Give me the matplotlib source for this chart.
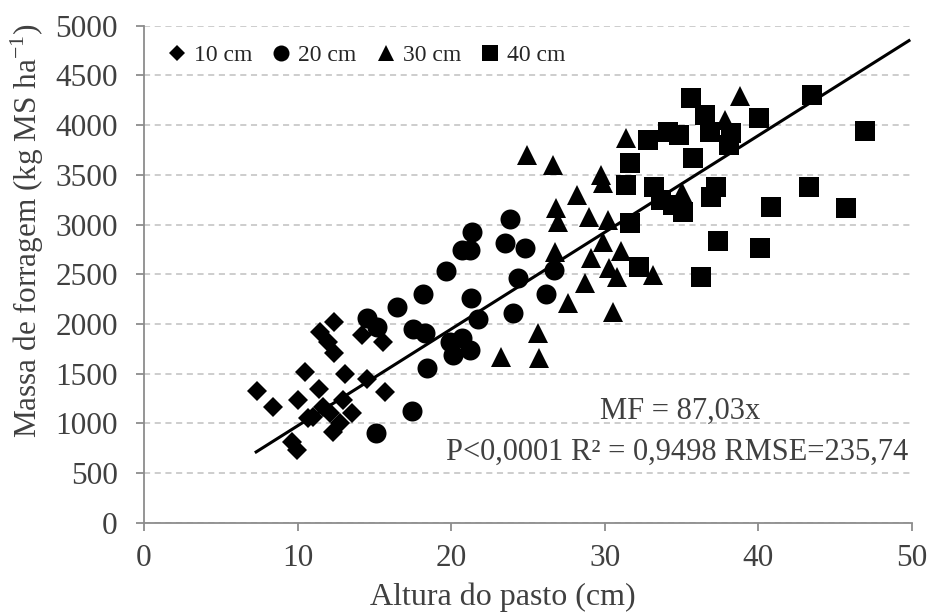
import matplotlib
matplotlib.use("Agg")
import matplotlib.pyplot as plt
import numpy as np

# values
x10 = [7.33, 8.37, 10.47, 11.41, 10.0, 13.08, 14.49, 15.72, 11.45, 12.36, 11.99,
       12.36, 14.16, 15.57, 10.69, 11.66, 12.97, 13.52, 12.31, 12.75, 9.61, 9.94,
       12.1, 11.0]
y10 = [1328, 1161, 1513, 1342, 1234, 1496, 1446, 1312, 1922, 2022, 1821,
       1704, 1888, 1821, 1050, 1167, 1234, 1101, 915, 1000, 815, 731,
       1101, 1066]

x20 = [14.49, 15.14, 15.1, 23.81, 21.38, 20.73, 21.21, 23.49, 24.79, 19.69, 24.35,
       26.68, 18.17, 16.44, 21.26, 26.2, 24.03, 21.75, 17.52, 18.28, 19.91, 20.67,
       21.21, 20.12, 18.39, 17.44]
y20 = [2056, 1972, 899, 3052, 2928, 2743, 2743, 2811, 2761, 2532, 2459,
       2542, 2301, 2167, 2258, 2301, 2113, 2046, 1946, 1905, 1821, 1855,
       1737, 1687, 1553, 1124]

x30 = [26.85, 26.96, 26.74, 27.61, 25.65, 23.27, 25.72, 24.94, 26.63, 31.41, 29.78,
       29.89, 28.19, 28.97, 30.21, 29.88, 29.13, 31.04, 30.28, 30.76, 33.14, 28.69,
       30.53, 38.82, 37.8, 35.05]
y30 = [3163, 3028, 2726, 2207, 1905, 1670, 1654, 3699, 3599, 3867, 3498,
       3415, 3297, 3078, 3045, 2827, 2660, 2736, 2559, 2475, 2492, 2408,
       2123, 4293, 4051, 3330]

x40 = [32.81, 31.62, 31.36, 33.18, 33.68, 31.62, 32.23, 35.59, 36.5, 36.83, 38.24,
       40.03, 38.08, 34.11, 34.83, 35.74, 34.44, 35.09, 37.26, 36.89, 37.37, 40.12,
       36.28, 40.84, 43.51, 46.91, 43.28, 45.67]
y40 = [3850, 3616, 3397, 3380, 3247, 3012, 2575, 4270, 4102, 3934, 3918,
       4074, 3800, 3934, 3900, 3666, 3196, 3129, 3380, 3280, 2837, 2761,
       2475, 3179, 4303, 3941, 3380, 3163]

# fitted line as drawn
line_x = [7.3, 49.8]
line_y = [712, 4850]

labels = ["10 cm", "20 cm", "30 cm", "40 cm"]

plt.rcParams['font.family'] = ['Liberation Serif', 'DejaVu Serif']
txt = '#404040'
axc = '#8c8c8c'

fig = plt.figure(figsize=(9.42, 6.12), dpi=100)
ax = fig.add_axes([0.1529, 0.1459, 0.8153, 0.8121])

ax.yaxis.grid(True, color='#c0c0c0', linestyle=(0, (4, 3)), linewidth=1.1)
ax.set_axisbelow(True)

ax.plot(line_x, line_y, '-', color='black', linewidth=2.2, zorder=2)

ax.plot(x10, y10, 'D', color='black', markersize=10, markeredgewidth=0, label=labels[0], zorder=3)
ax.plot(x20, y20, 'o', color='black', markersize=14.4, markeredgewidth=0, label=labels[1], zorder=3)
ax.plot(x30, y30, '^', color='black', markersize=14.4, markeredgewidth=0, label=labels[2], zorder=3)
ax.plot(x40, y40, 's', color='black', markersize=14, markeredgewidth=0, label=labels[3], zorder=3)

ax.set_xlim(0, 50)
ax.set_ylim(0, 5000)
ax.set_xticks(np.arange(0, 51, 10))
ax.set_yticks(np.arange(0, 5001, 500))

for s in ['top', 'right']:
    ax.spines[s].set_visible(False)
for s in ['left', 'bottom']:
    ax.spines[s].set_color(axc)
    ax.spines[s].set_linewidth(1.3)
ax.tick_params(axis='both', direction='out', length=6, width=1.3, color=axc,
               labelsize=22.5, labelcolor=txt)
ax.tick_params(axis='x', pad=9)
ax.tick_params(axis='y', pad=13)

fig.text(502.5 / 942, 1 - 597 / 612, 'Altura do pasto (cm)', ha='center', va='center',
         fontsize=23, color=txt)
fig.text(27 / 942, 1 - 231 / 612, 'Massa de forragem (kg MS ha$^{\\mathregular{-1}}$)',
         ha='center', va='center', rotation=90, fontsize=22.5, color=txt)

ax.text(680 / 942, 1 - 411 / 612, 'MF = 87,03x', transform=fig.transFigure,
        ha='center', va='center', fontsize=22, color=txt)
ax.text(908 / 942, 1 - 452 / 612, 'P<0,0001 R² = 0,9498 RMSE=235,74', transform=fig.transFigure,
        ha='right', va='center', fontsize=22, color=txt)

leg = ax.legend(loc='upper left', bbox_to_anchor=(0.0306, 0.962), ncol=4, frameon=False,
                fontsize=17, markerscale=0.8, handlelength=0.8, handletextpad=0.32,
                columnspacing=0.83, borderaxespad=0, borderpad=0)
for t in leg.get_texts():
    t.set_color('#262626')

fig.savefig('out.png', dpi=100)
